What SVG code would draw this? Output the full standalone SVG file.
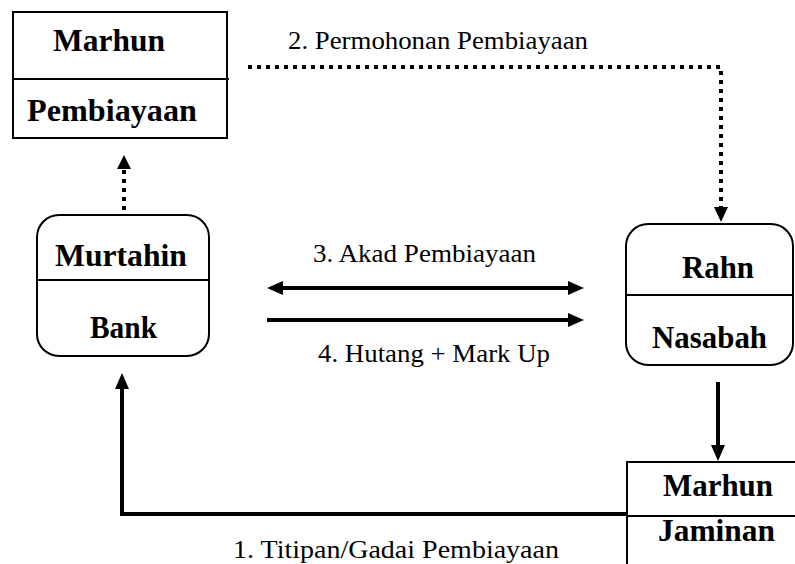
<svg xmlns="http://www.w3.org/2000/svg" width="795" height="564" viewBox="0 0 795 564">
<style>
.box{fill:#fff;stroke:#000;stroke-width:2}
.div{stroke:#000;stroke-width:2}
.b{font-family:"Liberation Serif","Times New Roman",serif;font-weight:bold;font-size:31px;fill:#000}
.l{font-family:"Liberation Serif","Times New Roman",serif;font-size:25px;fill:#000}
.solid{fill:none;stroke:#000;stroke-width:4}
.dot{fill:none;stroke:#000;stroke-width:4;stroke-dasharray:4 5}
</style>
<rect width="795" height="564" fill="#fff"/>
<g id="connectors">
<path class="dot" d="M124,210 V168"/>
<path d="M117,169 L124,155 L131,169 z" fill="#000"/>
<path class="dot" d="M248,67 H721 V208"/>
<path d="M714,207 L721,222 L728,207 z" fill="#000"/>
<path class="solid" d="M283,288 H568"/>
<path d="M283,281 L267,288 L283,295 z" fill="#000"/>
<path d="M568,281 L584,288 L568,295 z" fill="#000"/>
<path class="solid" d="M267,320 H568"/>
<path d="M568,313 L584,320 L568,327 z" fill="#000"/>
<path class="solid" d="M718,382 V446"/>
<path d="M711,445 L718,461 L725,445 z" fill="#000"/>
<path class="solid" d="M627,514 H122 V388"/>
<path d="M115,389 L122,373 L129,389 z" fill="#000"/>
<text class="l" x="288" y="49" textLength="300" lengthAdjust="spacingAndGlyphs">2. Permohonan Pembiayaan</text>
<text class="l" x="313" y="262" textLength="223" lengthAdjust="spacingAndGlyphs">3. Akad Pembiayaan</text>
<text class="l" x="318" y="362" textLength="232" lengthAdjust="spacingAndGlyphs">4. Hutang + Mark Up</text>
<text class="l" x="233" y="558" textLength="326" lengthAdjust="spacingAndGlyphs">1. Titipan/Gadai Pembiayaan</text>
</g>
<g id="marhun-pembiayaan">
<rect class="box" x="13" y="12" width="214" height="126"/>
<line class="div" x1="13" y1="79" x2="229" y2="79"/>
<text class="b" x="53" y="51" textLength="112" lengthAdjust="spacingAndGlyphs">Marhun</text>
<text class="b" x="27" y="121" textLength="170" lengthAdjust="spacingAndGlyphs">Pembiayaan</text>
</g>
<g id="murtahin-bank">
<rect class="box" x="37" y="215" width="172" height="141" rx="22"/>
<line class="div" x1="37" y1="280" x2="209" y2="280"/>
<text class="b" x="55" y="266" textLength="132" lengthAdjust="spacingAndGlyphs">Murtahin</text>
<text class="b" x="90" y="338" textLength="67" lengthAdjust="spacingAndGlyphs">Bank</text>
</g>
<g id="rahn-nasabah">
<rect class="box" x="626" y="224" width="167" height="141" rx="22"/>
<line class="div" x1="626" y1="295" x2="793" y2="295"/>
<text class="b" x="682" y="278" textLength="72" lengthAdjust="spacingAndGlyphs">Rahn</text>
<text class="b" x="652" y="348" textLength="115" lengthAdjust="spacingAndGlyphs">Nasabah</text>
</g>
<g id="marhun-jaminan">
<rect class="box" x="627" y="462" width="180" height="120"/>
<line class="div" x1="627" y1="516" x2="795" y2="516"/>
<text class="b" x="663" y="496" textLength="110" lengthAdjust="spacingAndGlyphs">Marhun</text>
<text class="b" x="658" y="541" textLength="117" lengthAdjust="spacingAndGlyphs">Jaminan</text>
</g>
</svg>
